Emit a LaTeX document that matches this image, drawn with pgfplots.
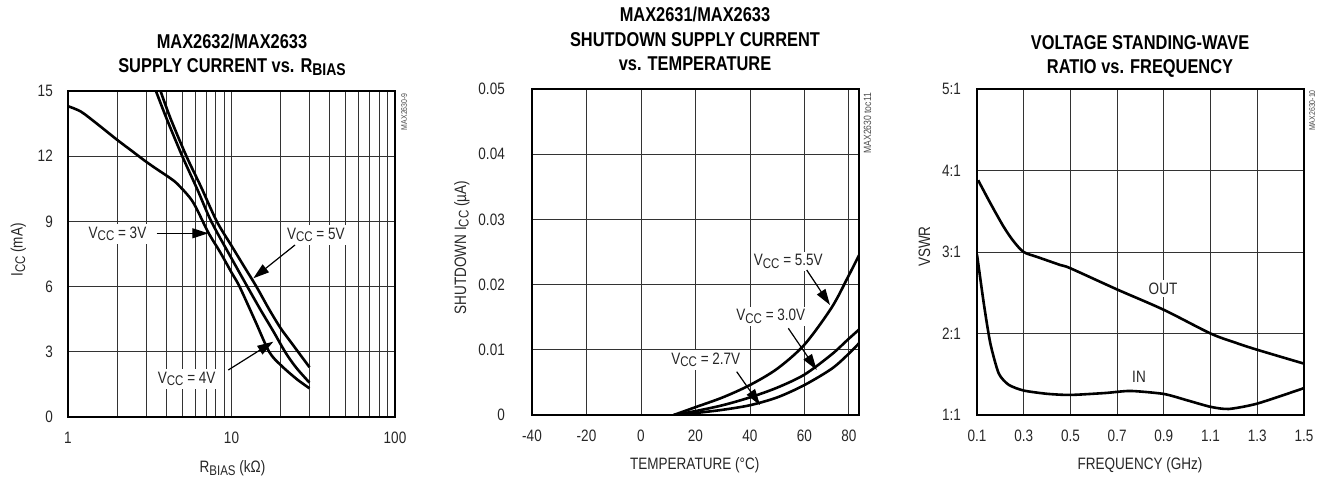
\documentclass[border=0pt]{standalone}
\usepackage{fontspec}
\setmainfont{Liberation Sans}[FakeStretch=0.82]
\usepackage{graphicx}
\usepackage{pgfplots}
\pgfplotsset{compat=1.18}
\usetikzlibrary{arrows.meta}

\newcommand{\sub}[1]{\raisebox{-0.3ex}{\scalebox{0.85}{#1}}}
\newcommand{\lbl}{\fontsize{16.5}{19}\selectfont}
\newcommand{\ttl}{\fontsize{20}{23}\selectfont\bfseries}

\pgfplotsset{
  dsheet/.style={
    scale only axis, width=327pt, height=326pt, anchor=south west,
    axis line style={line width=2.7pt},
    grid=major,
    major grid style={line width=0.9pt, color=black!80},
    minor grid style={line width=0.9pt, color=black!80},
    major tick length=0pt, minor tick length=0pt,
    every tick label/.append style={font=\lbl, text=black!85, inner sep=0pt},
    xticklabel style={anchor=north, yshift=-15pt},
    scaled x ticks=false, scaled y ticks=false,
  },
  crv/.style={black, line width=2.6pt, smooth, tension=0.5, no markers},
}

\begin{document}
\begin{tikzpicture}[x=1pt,y=1pt]
\useasboundingbox (0,0) rectangle (1323,481);

% ---------------- Panel 1 ----------------
\begin{axis}[dsheet, at={(68pt,64pt)},
  xmode=log, log basis x=10, xmin=1, xmax=100, ymin=0, ymax=15,
  xtick={1,10,100}, xticklabels={1,10,100},
  minor xtick={2,3,4,5,6,7,8,9,20,30,40,50,60,70,80,90},
  xminorgrids=true,
  ytick={0,3,6,9,12,15}, yticklabels={0,3,6,9,12,15},
  yticklabel style={anchor=east, xshift=-15pt},
]
% VCC = 3V
\addplot[crv] coordinates {(1,14.3) (1.2,14.05) (1.5,13.5) (2,12.75) (2.5,12.2) (3,11.75) (3.5,11.4) (4.2,11.0) (4.7,10.7) (5.8,9.9) (7.2,8.5) (8.5,7.6) (10,6.65) (11.2,6.0) (14,4.4) (17,3.0) (20,2.39) (25,1.75) (30,1.32)};
% VCC = 4V
\addplot[crv] coordinates {(3.45,15) (4.0,13.75) (5.0,12.0) (6.2,10.45) (7.52,9.0) (10,7.3) (12.5,6.0) (15,4.95) (18,3.95) (21.5,2.94) (25,2.25) (30,1.58)};
% VCC = 5V
\addplot[crv] coordinates {(3.68,15) (4.23,13.75) (5.3,12.0) (6.5,10.6) (8.13,9.0) (10,7.88) (12,6.9) (14.2,6.0) (17,4.95) (20,4.08) (23,3.46) (26,2.92) (30,2.29)};
\end{axis}

% ---------------- Panel 2 ----------------
\begin{axis}[dsheet, at={(532pt,66pt)},
  xmin=-40, xmax=80, ymin=0, ymax=0.05,
  xtick={-40,-20,0,20,40,60,76.3}, xticklabels={-40,-20,0,20,40,60,80},
  ytick={0,0.01,0.02,0.03,0.04,0.05}, yticklabels={0,0.01,0.02,0.03,0.04,0.05},
  yticklabel style={anchor=east, xshift=-27pt},
]
% VCC = 5.5V
\addplot[crv] coordinates {(12,0) (20,0.0012) (30,0.0027) (40,0.0046) (50,0.0071) (60,0.0108) (70,0.0165) (76,0.0212) (80,0.0245)};
% VCC = 3.0V
\addplot[crv] coordinates {(12,0) (20,0.0006) (30,0.0015) (40,0.0027) (50,0.0042) (60,0.0062) (70,0.0093) (76,0.0116) (80,0.0131)};
% VCC = 2.7V
\addplot[crv] coordinates {(13,0) (20,0.0003) (30,0.0008) (40,0.0015) (50,0.0027) (60,0.0046) (70,0.0071) (76,0.0093) (80,0.0110)};
\end{axis}

% ---------------- Panel 3 ----------------
\begin{axis}[dsheet, at={(977pt,66pt)},
  xmin=0.1, xmax=1.5, ymin=1, ymax=5,
  xtick={0.1,0.3,0.5,0.7,0.9,1.1,1.3,1.5}, xticklabels={0.1,0.3,0.5,0.7,0.9,1.1,1.3,1.5},
  ytick={1,2,3,4,5}, yticklabels={1:1,2:1,3:1,4:1,5:1},
  yticklabel style={anchor=east, xshift=-16pt},
]
% OUT
\addplot[crv] coordinates {(0.105,3.88) (0.157,3.60) (0.214,3.31) (0.257,3.13) (0.3,3.0) (0.357,2.94) (0.457,2.84) (0.5,2.80) (0.7,2.54) (0.9,2.29) (1.1,2.0) (1.214,1.88) (1.3,1.80) (1.5,1.63)};
% IN
\addplot[crv, tension=0.4] coordinates {(0.1,2.97) (0.129,2.37) (0.157,1.88) (0.193,1.51) (0.236,1.37) (0.3,1.30) (0.4,1.26) (0.5,1.246) (0.65,1.27) (0.757,1.295) (0.9,1.258) (1.0,1.18) (1.1,1.10) (1.178,1.074) (1.3,1.14) (1.5,1.33)};
\end{axis}

% ---------------- Titles ----------------
\node[anchor=base, font=\ttl] at (232,432.7) {MAX2632/MAX2633};
\node[anchor=base, font=\ttl] at (232,408.3) {SUPPLY CURRENT vs. R\sub{BIAS}};
\node[anchor=base, font=\ttl] at (695,459.3) {MAX2631/MAX2633};
\node[anchor=base, font=\ttl] at (695,434.3) {SHUTDOWN SUPPLY CURRENT};
\node[anchor=base, font=\ttl] at (695,410.3) {vs. TEMPERATURE};
\node[anchor=base, font=\ttl] at (1140,431.7) {VOLTAGE STANDING-WAVE};
\node[anchor=base, font=\ttl] at (1140,407) {RATIO vs. FREQUENCY};

% ---------------- Axis labels ----------------
\node[anchor=base, font=\lbl, text=black!85] at (232.5,8.3) {R\sub{BIAS} (kΩ)};
\node[anchor=base, font=\lbl, text=black!85] at (694.7,11.7) {TEMPERATURE (°C)};
\node[anchor=base, font=\lbl, text=black!85] at (1140,11) {FREQUENCY (GHz)};
\node[anchor=base, rotate=90, font=\lbl, text=black!85] at (22.5,231) {I\sub{CC} (mA)};
\node[anchor=base, rotate=90, font=\lbl, text=black!85] at (466,233.5) {SHUTDOWN I\sub{CC} (µA)};
\node[anchor=base, rotate=90, font=\lbl, text=black!85] at (930,234.3) {VSWR};

% ---------------- Side codes ----------------
\node[anchor=base, rotate=90, font=\fontsize{8.5}{10}\selectfont, text=black!70] at (407,369.3) {MAX2630-9};
\node[anchor=base, rotate=90, font=\fontsize{10.5}{12}\selectfont, text=black!70] at (871,357.7) {MAX2630 toc11};
\node[anchor=base, rotate=90, font=\fontsize{8.5}{10}\selectfont, text=black!70] at (1315,370.5) {MAX2630-10};

% ---------------- Annotations ----------------
\tikzset{ann/.style={anchor=base, font=\lbl, text=black!85, fill=white, inner sep=2.5pt},
         arr/.style={line width=1.2pt, -{Triangle[length=16pt,width=10pt]}}}
\node[ann] at (117.5,242.7) {V\sub{CC} = 3V};
\draw[arr] (156.7,247.7) -- (208.3,247.7);
\node[ann] at (315.8,241.7) {V\sub{CC} = 5V};
\draw[arr] (295,236) -- (253.3,202.7);
\node[ann] at (186.7,97.7) {V\sub{CC} = 4V};
\draw[arr] (228.3,111) -- (273.3,139.3);

\node[ann] at (788.3,215) {V\sub{CC} = 5.5V};
\draw[arr] (806.7,211) -- (830,176);
\node[ann] at (770.8,160.3) {V\sub{CC} = 3.0V};
\draw[arr] (788.3,152.7) -- (816.7,111);
\node[ann] at (705.8,116.7) {V\sub{CC} = 2.7V};
\draw[arr] (736.7,109.3) -- (760,76);

\node[ann] at (1163,186.7) {OUT};
\node[ann] at (1139,98.3) {IN};
\end{tikzpicture}
\end{document}
